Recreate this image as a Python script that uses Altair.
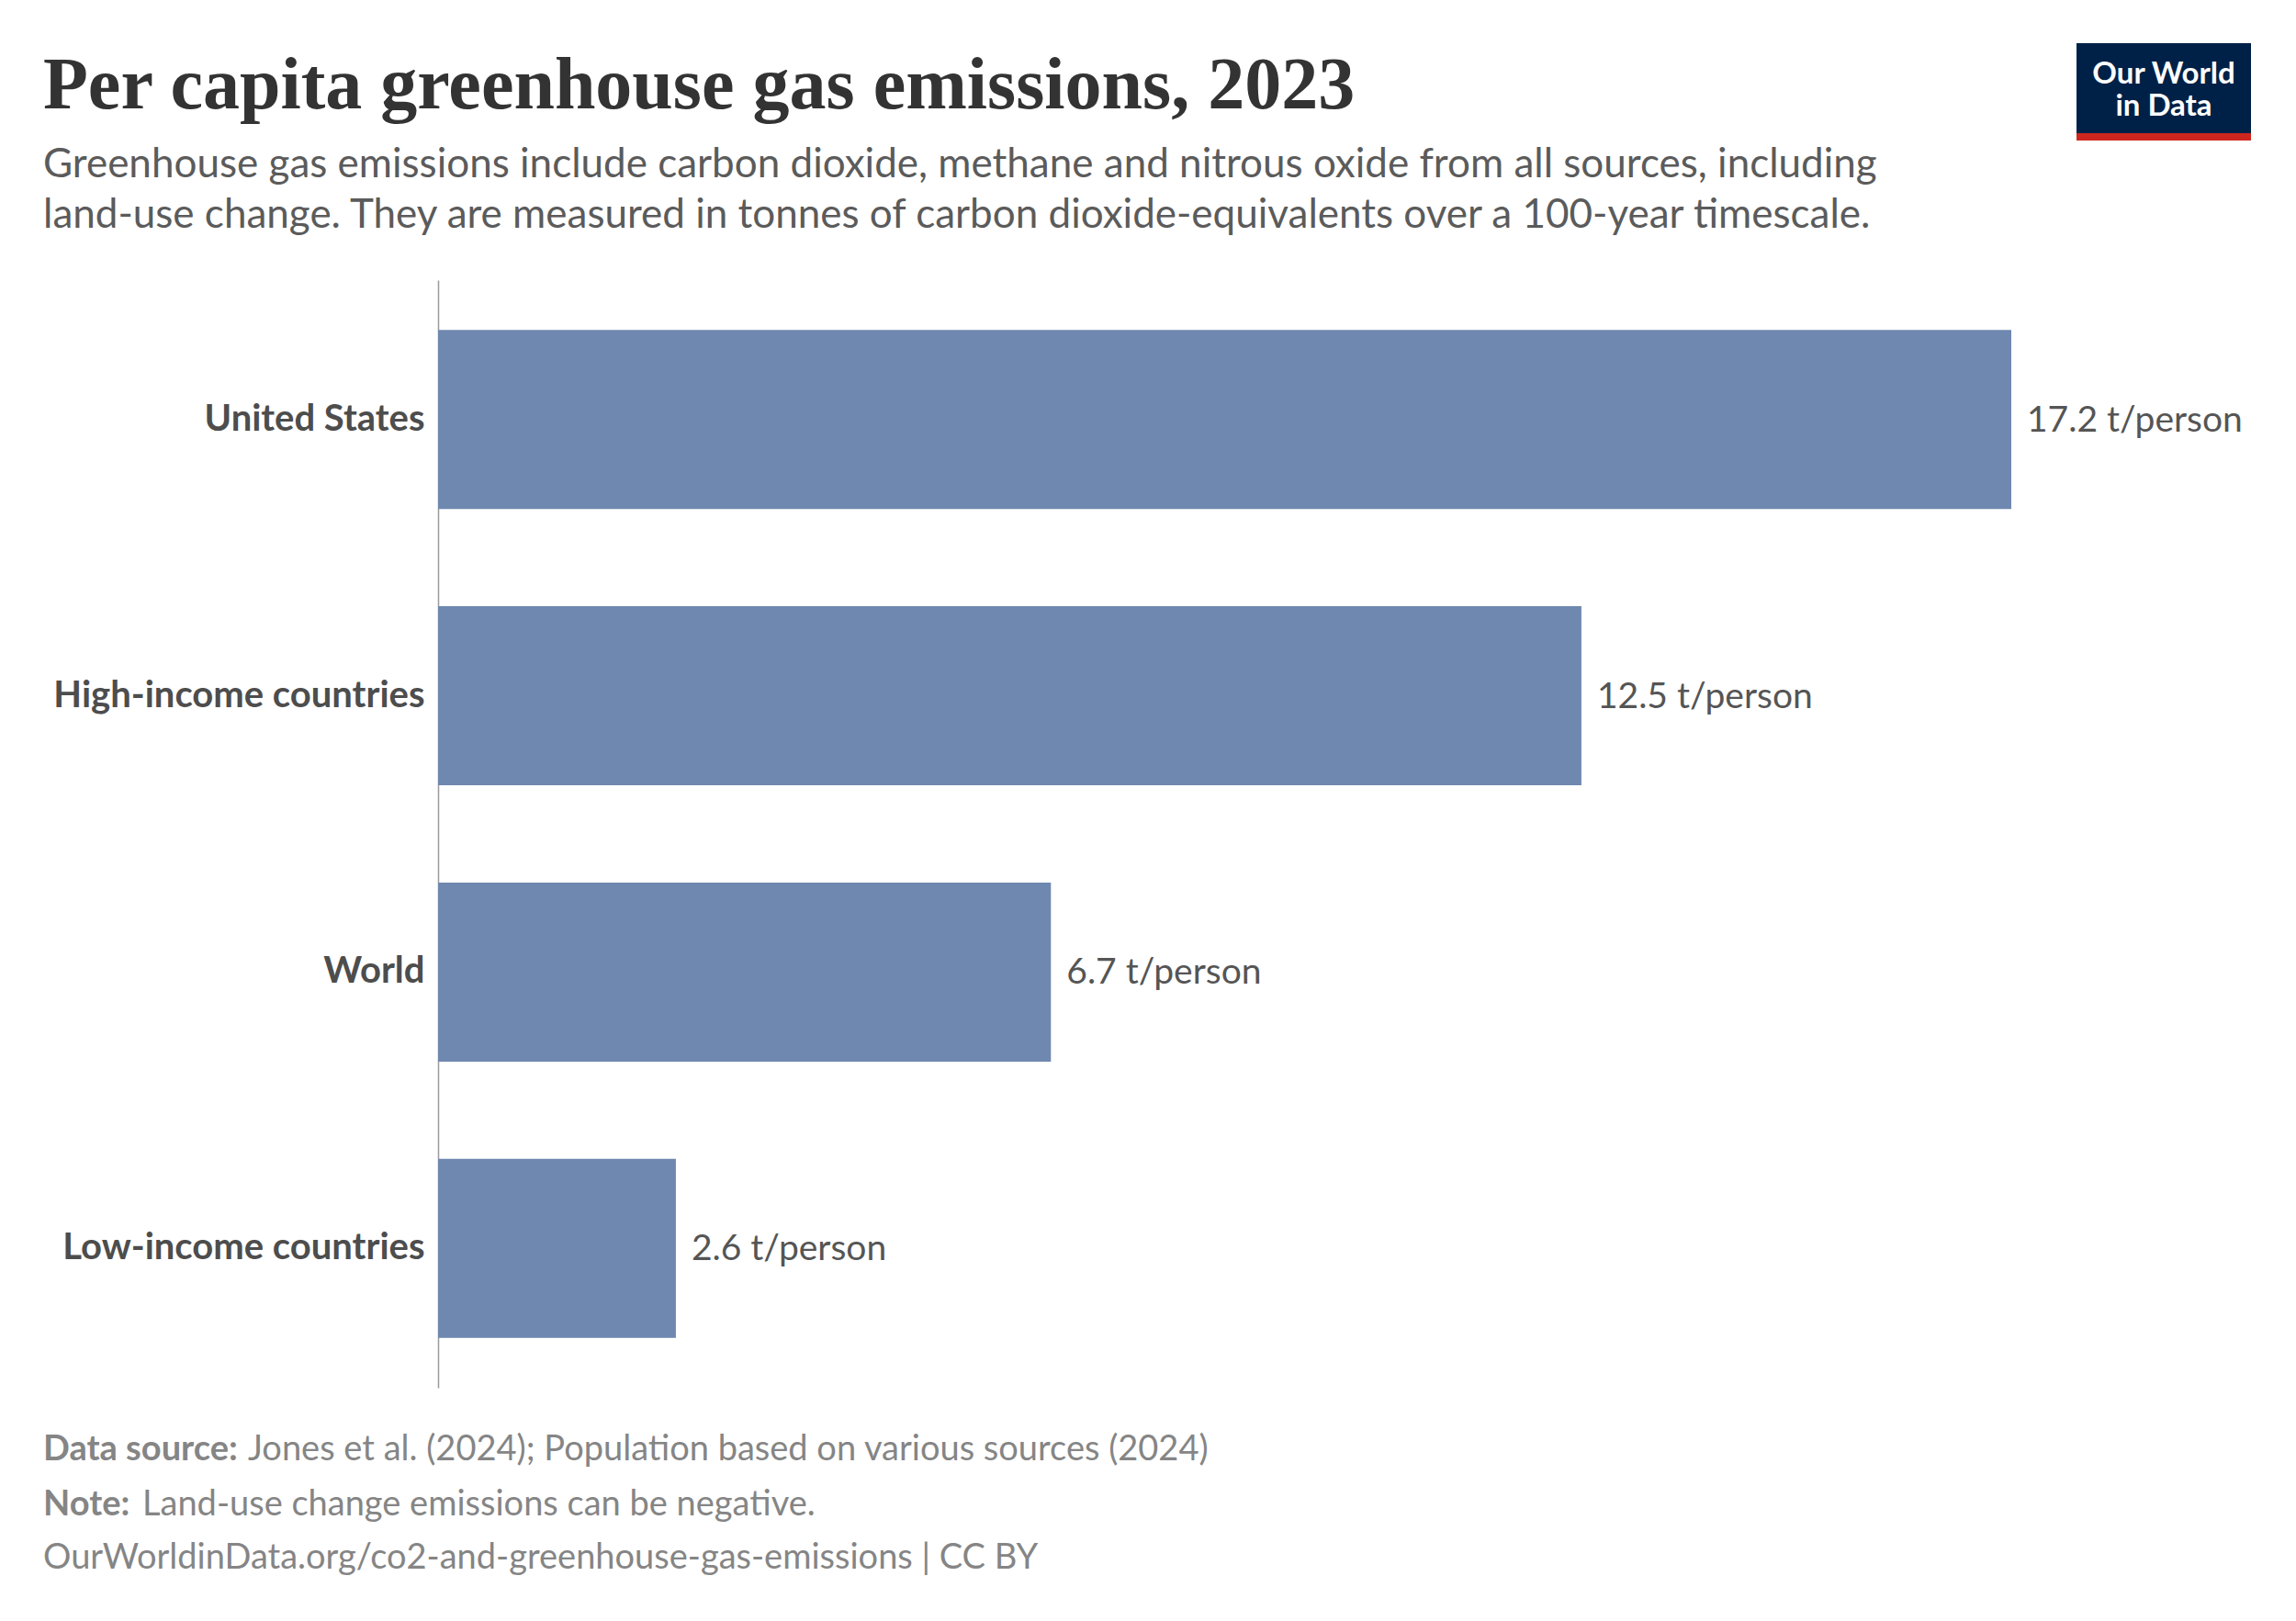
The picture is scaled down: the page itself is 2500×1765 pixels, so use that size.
import altair as alt
import pandas as pd

categories = ["United States", "High-income countries", "World", "Low-income countries"]
values = [17.2, 12.5, 6.7, 2.6]
unit = " t/person"

title_text = "Per capita greenhouse gas emissions, 2023"
subtitle_lines = [
    "Greenhouse gas emissions include carbon dioxide, methane and nitrous oxide from all sources, including",
    "land-use change. They are measured in tonnes of carbon dioxide-equivalents over a 100-year timescale.",
]
source_bold = "Data source:"
source_text = "Jones et al. (2024); Population based on various sources (2024)"
note_bold = "Note:"
note_text = "Land-use change emissions can be negative."
url_text = "OurWorldinData.org/co2-and-greenhouse-gas-emissions | CC BY"
logo_lines = ["Our World", "in Data"]

df = pd.DataFrame({"entity": categories, "value": values})
one = alt.Data(values=[{"k": 1}])

BAR = "#6f88b0"

y_enc = alt.Y(
    "entity:N",
    sort=categories,
    scale=alt.Scale(paddingInner=0.352, paddingOuter=0.18),
    axis=alt.Axis(
        title=None,
        ticks=False,
        tickSize=0,
        labelPadding=15,
        labelLimit=0,
        labelFont="Lato",
        labelFontWeight="bold",
        labelFontSize=40,
        labelColor="#4d4d4d",
        domainColor="#9a9a9a",
        domainWidth=1.5,
        grid=False,
    ),
)
x_enc = alt.X("value:Q", scale=alt.Scale(domain=[0, 17.2], nice=False, zero=True), axis=None)

bars = alt.Chart(df).mark_bar(color=BAR).encode(x=x_enc, y=y_enc)
labels = (
    alt.Chart(df)
    .transform_calculate(label="format(datum.value, '.1f') + '" + unit + "'")
    .mark_text(align="left", baseline="alphabetic", dx=17, dy=13, font="Lato", fontSize=39, color="#555555")
    .encode(x=x_enc, y=y_enc, text="label:N")
)


def txt(s, x, y, size, color, weight="normal", font="Lato", align="left", **kw):
    return alt.Chart(one).mark_text(
        text=s, align=align, baseline="alphabetic", font=font, fontSize=size,
        fontWeight=weight, color=color, **kw
    ).encode(x=alt.value(x), y=alt.value(y))


layers = [bars, labels]
layers.append(txt(title_text, -430, -187, 80, "#333333", weight="bold", font="Liberation Serif"))
layers.append(txt(subtitle_lines[0], -430, -112, 44, "#5b5b5b"))
layers.append(txt(subtitle_lines[1], -430, -57, 44, "#5b5b5b"))
layers.append(txt(source_bold, -430, 1285, 38, "#858585", weight="bold"))
layers.append(txt(source_text, -207, 1285, 38, "#858585"))
layers.append(txt(note_bold, -430, 1345, 38, "#858585", weight="bold"))
layers.append(txt(note_text, -322, 1345, 38, "#858585"))
layers.append(txt(url_text, -430, 1403, 38, "#858585"))

logo_bg = alt.Chart(one).mark_rect(color="#002147").encode(
    x=alt.value(1784), x2=alt.value(1974), y=alt.value(-258), y2=alt.value(-152)
)
logo_red = alt.Chart(one).mark_rect(color="#ce261e").encode(
    x=alt.value(1784), x2=alt.value(1974), y=alt.value(-160), y2=alt.value(-152)
)
layers += [logo_bg, logo_red]
layers.append(txt(logo_lines, 1879, -214, 33, "#ffffff", weight="bold", align="center", lineHeight=35))

chart = (
    alt.layer(*layers)
    .properties(
        width=1713,
        height=1206,
        autosize=alt.AutoSizeParams(type="none"),
        padding={"left": 469, "top": 297, "right": 302, "bottom": 246},
        background="#ffffff",
    )
    .configure_view(stroke=None)
)

chart.save("out.html", embed_options={"renderer": "svg", "actions": False})
